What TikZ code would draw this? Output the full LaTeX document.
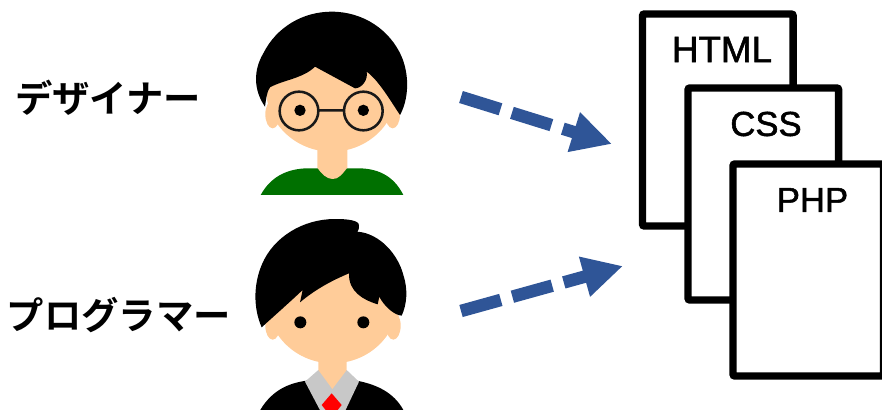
\documentclass[tikz,border=0pt]{standalone}
\usepackage{fontspec}
\setmainfont{Liberation Sans}
\newfontfamily\docfont{Liberation Sans}[FakeBold=1.5]
\newfontfamily\jpfont{Noto Sans CJK JP}[BoldFont={Noto Sans CJK JP Bold}]
\usepackage{xcolor}
\usetikzlibrary{arrows.meta,positioning}
\definecolor{arrowblue}{RGB}{47, 85, 151}
\definecolor{skintone}{RGB}{255, 204, 153}
\definecolor{shirtgreen}{RGB}{0, 112, 0}
\definecolor{collargray}{RGB}{200, 200, 200}

\begin{document}
\begin{tikzpicture}[x=0.75pt, y=-0.75pt,
    docpage/.style={draw=black, fill=white, line width=5.6pt, rounded corners=1.5pt, outer sep=0pt,
        minimum width=113pt, minimum height=159pt, anchor=north west},
    doclabel/.style={font=\docfont\fontsize{26}{26}\selectfont, inner sep=0pt},
    rolelabel/.style={font=\jpfont\bfseries\fontsize{28}{28}\selectfont, inner sep=0pt},
    flowarrow/.style={draw=arrowblue, line width=9.4pt, dash pattern=on 31pt off 9pt,
        -{Triangle[length=30pt, width=29pt, fill=arrowblue]}}]
    \useasboundingbox (0, 0) rectangle (882, 410);

    % labels
    \node[rolelabel] (designer) at (108, 98) {デザイナー};
    \node[rolelabel] (programmer) at (119, 315) {プログラマー};

    % designer
    \begin{scope}[shift={(240, 0)}, scale=1/3]
        \fill[shirtgreen] (62, 585) .. controls (95, 525) and (150, 503) .. (215, 505)
            -- (345, 505) .. controls (410, 503) and (460, 525) .. (490, 585) -- cycle;
        \fill[skintone] (232, 430) -- (322, 430) -- (322, 503)
            .. controls (305, 525) and (295, 537) .. (278, 537)
            .. controls (260, 537) and (245, 522) .. (232, 503) -- cycle;
        \fill[skintone] (98, 343) ellipse (22 and 42);
        \fill[skintone] (458, 343) ellipse (22 and 42);
        \fill[skintone] (275, 265) ellipse (197 and 190);
        \fill[black] (75, 320) .. controls (40, 270) and (40, 210) .. (70, 160)
            .. controls (110, 80) and (190, 35) .. (275, 35)
            .. controls (370, 35) and (450, 90) .. (485, 170)
            .. controls (510, 230) and (505, 300) .. (480, 345)
            .. controls (450, 300) and (415, 240) .. (380, 215)
            .. controls (385, 240) and (365, 265) .. (345, 265)
            -- (225, 200)
            .. controls (190, 235) and (130, 240) .. (90, 262)
            .. controls (80, 275) and (78, 300) .. (75, 320) -- cycle;
        \draw[black!90, line width=1.9pt] (177, 333) circle (58) (370, 333) circle (58)
            (235, 331) -- (312, 331);
        \fill[black] (180, 331) circle (17) (370, 331) circle (17);
    \end{scope}

    % programmer
    \begin{scope}[shift={(240, 205)}, scale=1/3]
        \begin{scope}
            \clip (0, 0) rectangle (600, 615);
            \fill[black] (55, 625) .. controls (90, 560) and (140, 535) .. (200, 527)
                -- (350, 527) .. controls (420, 540) and (470, 570) .. (495, 625) -- cycle;
            \fill[collargray] (195, 530) -- (235, 495) -- (320, 495) -- (357, 530)
                -- (312, 625) -- (245, 625) -- cycle;
            \fill[red] (275, 565) -- (305, 600) -- (285, 625) -- (265, 625) -- (245, 600) -- cycle;
        \end{scope}
        \fill[skintone] (235, 450) -- (320, 450) -- (320, 495) -- (277, 552) -- (235, 495) -- cycle;
        \fill[skintone] (98, 362) ellipse (22 and 42);
        \fill[skintone] (460, 362) ellipse (22 and 42);
        \fill[skintone] (278, 285) ellipse (197 and 190);
        \fill[black] (65, 367) .. controls (40, 310) and (40, 240) .. (65, 180)
            .. controls (100, 95) and (190, 42) .. (285, 42)
            .. controls (320, 42) and (358, 45) .. (357, 62)
            .. controls (357, 72) and (355, 78) .. (352, 80)
            .. controls (420, 85) and (475, 150) .. (490, 210)
            .. controls (505, 255) and (500, 300) .. (485, 332)
            .. controls (460, 330) and (430, 300) .. (418, 275)
            -- (413, 298)
            .. controls (370, 285) and (325, 260) .. (327, 205)
            .. controls (280, 225) and (230, 250) .. (180, 292)
            -- (188, 255)
            .. controls (140, 300) and (100, 335) .. (65, 367) -- cycle;
        \fill[black] (181, 352) circle (18) (370, 352) circle (18);
    \end{scope}

    % documents
    \node[docpage] (htmlpage) at (642.5, 14) {};
    \node[doclabel, font=\docfont\fontsize{27.6}{27.6}\selectfont] (htmltext) at (722, 49.5) {HTML};
    \node[docpage] (csspage) at (688, 88) {};
    \node[doclabel] (csstext) at (766, 124) {CSS};
    \node[docpage] (phppage) at (733, 164) {};
    \node[doclabel] (phptext) at (812.5, 200) {PHP};

    % arrows
    \coordinate (designerstart) at (461, 97);
    \coordinate (designerend) at (612, 144);
    \coordinate (programmerstart) at (461, 311);
    \coordinate (programmerend) at (623, 266);
    \draw[flowarrow] (designerstart) -- (designerend);
    \draw[flowarrow] (programmerstart) -- (programmerend);
\end{tikzpicture}
\end{document}
